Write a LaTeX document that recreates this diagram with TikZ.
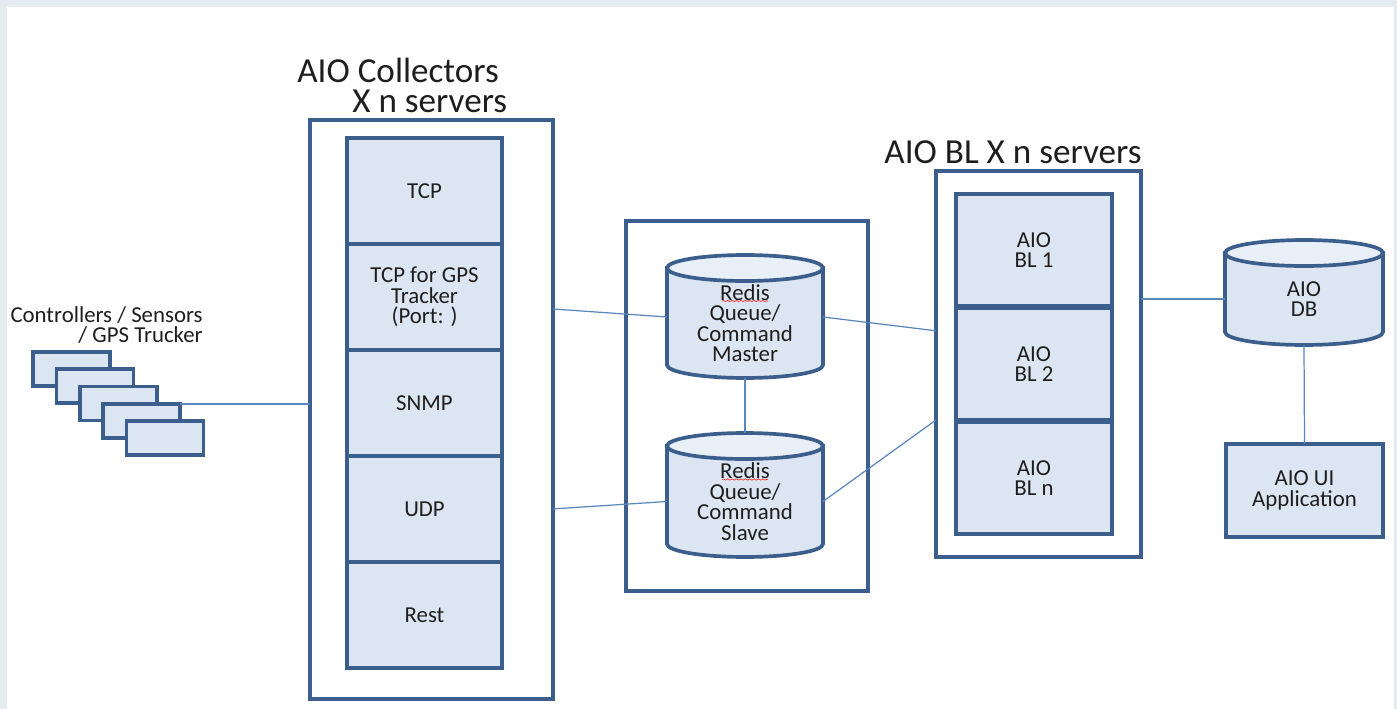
\documentclass[tikz,border=0pt]{standalone}
\usepackage{fontspec}
\setmainfont{Carlito}
\usepackage{xcolor}
\usepackage{tikz}
\usetikzlibrary{positioning, calc, backgrounds, decorations.pathmorphing}

\definecolor{aioblue}{HTML}{3B5E8C}
\definecolor{aiofill}{HTML}{DCE6F2}
\definecolor{aiotop}{HTML}{E9EFF7}
\definecolor{aioline}{HTML}{5A86C0}
\definecolor{aiopanel}{HTML}{E4ECEF}
\definecolor{aiotext}{HTML}{1E1E1E}

\tikzset{
  boxline/.style={draw=aioblue, line width=2.1pt, inner sep=0pt, outer sep=0pt},
  caption/.style={text=aiotext, font=\fontsize{13}{11.7}\selectfont, align=center},
  tier/.style={boxline, caption, fill=aiofill, minimum width=3.1cm, minimum height=2.12cm},
  device/.style={boxline, fill=aiofill, minimum width=1.54cm, minimum height=0.68cm},
  drumbody/.style={caption, inner sep=0pt, outer sep=0pt},
  heading/.style={text=aiotext, font=\fontsize{20}{17}\selectfont, inner sep=0pt},
  link/.style={draw=aioline, line width=0.7pt},
  squiggle/.style={draw=red!80, line width=0.4pt, decorate,
    decoration={snake, amplitude=0.35pt, segment length=2.5pt}}
}

% cylinder behind a drumbody node: top ellipse centred on its north side
\newcommand{\drumshape}[1]{%
  \begin{scope}[on background layer]
    \path[boxline, fill=aiofill] let \p1=($(#1.east)-(#1.west)$) in
      (#1.north west) -- ([yshift=0.26cm]#1.south west)
      arc[start angle=180, end angle=360, x radius=0.5*\x1, y radius=0.26cm]
      -- (#1.north east) -- cycle;
    \path[boxline, fill=aiotop] let \p1=($(#1.east)-(#1.west)$) in
      (#1.north) ellipse[x radius=0.5*\x1, y radius=0.26cm];
  \end{scope}}

\begin{document}
\begin{tikzpicture}[x=0.02cm, y=-0.02cm]
    % Panel
    \begin{scope}[on background layer]
        \fill[aiopanel] (0,0) rectangle (1397,709);
        \fill[white] (7,7) rectangle (1394,709);
    \end{scope}
    % Collectors
    \node[heading, anchor=west, align=left] (colltitle) at (297,85) {AIO Collectors\\\hspace*{1.1cm}X n servers};
    \node[boxline, minimum width=4.86cm, minimum height=11.58cm] (coll) at (431.5,409.5) {};
    \node[tier] (tcp) at (424.5,191) {TCP};
    \node[tier, below=0pt of tcp] (gps) {TCP for GPS\\Tracker\\(Port: )};
    \node[tier, below=0pt of gps] (snmp) {SNMP};
    \node[tier, below=0pt of snmp] (udp) {UDP};
    \node[tier, below=0pt of udp] (rest) {Rest};
    % Devices
    \node[caption, align=right, anchor=east, inner sep=0pt] (devlabel) at (203,325) {Controllers / Sensors\\/ GPS Trucker};
    \foreach \i in {1,...,5}
        \node[device] (dev\i) at ({71.5+23.4*(\i-1)},{369+17.3*(\i-1)}) {};
    % Redis queues
    \node[boxline, minimum width=4.84cm, minimum height=7.4cm] (redis) at (747,406) {};
    \node[drumbody, minimum width=3.12cm, minimum height=2.2cm] (master) at (745,323) {Redis\\Queue/\\Command\\Master};
    \drumshape{master}
    \node[drumbody, minimum width=3.12cm, minimum height=2.22cm] (slave) at (745,501.5) {Redis\\Queue/\\Command\\Slave};
    \drumshape{slave}
    \draw[squiggle] ($(master.center)+(-23,-22)$) -- ++(46,0);
    \draw[squiggle] ($(slave.center)+(-23,-22)$) -- ++(46,0);
    % BL servers
    \node[heading] (bltitle) at (1013,152) {AIO BL X n servers};
    \node[boxline, minimum width=4.1cm, minimum height=7.72cm] (bl) at (1038.5,364) {};
    \node[tier, minimum width=3.12cm, minimum height=2.24cm] (bl1) at (1034,250) {AIO\\BL 1};
    \node[tier, minimum width=3.12cm, minimum height=2.24cm, below=0.04cm of bl1] (bl2) {AIO\\BL 2};
    \node[tier, minimum width=3.12cm, minimum height=2.24cm, below=0.04cm of bl2] (bln) {AIO\\BL n};
    % DB and UI
    \node[drumbody, minimum width=3.16cm, minimum height=1.84cm] (db) at (1304,299) {AIO\\DB};
    \drumshape{db}
    \node[tier, minimum width=3.14cm, minimum height=1.86cm] (ui) at (1304.5,490.5) {AIO UI\\Application};
    % Connectors
    \draw[link] (dev4.north east) -- (dev4.north east -| coll.west);
    \draw[link] ($(gps.east -| coll.east)+(0,12)$) -- ([yshift=0.12cm]master.west);
    \draw[link] (udp.east -| coll.east) -- (slave.west);
    \draw[link] (master.south) -- ([yshift=0.26cm]slave.north);
    \draw[link] ([yshift=0.12cm]master.east) -- ($(bl.north west)!0.414!(bl.south west)$);
    \draw[link] (slave.east) -- ($(bl.north west)!0.645!(bl.south west)$);
    \draw[link] (db.west -| bl.east) -- (db.west);
    \draw[link] (db.south) -- (ui.north);
\end{tikzpicture}
\end{document}
